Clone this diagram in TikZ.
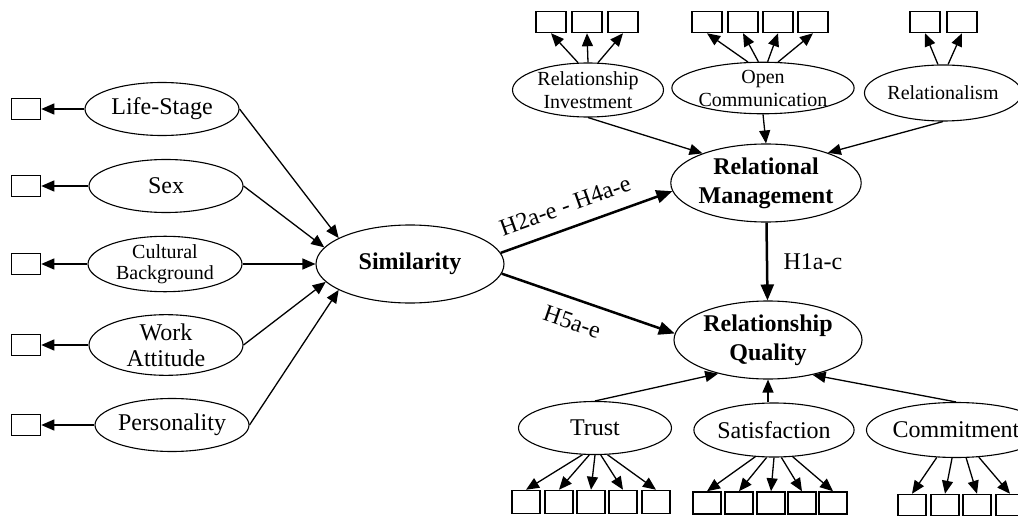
\documentclass[tikz,border=0pt]{standalone}
\usepackage{fontspec}
\setmainfont{Liberation Serif}
\usetikzlibrary{arrows.meta,shapes.geometric}
\newcommand\mainsize{\fontsize{24}{26}\selectfont}
\newcommand\subsize{\fontsize{20}{23}\selectfont}

\begin{document}
\begin{tikzpicture}[x=1pt,y=-1pt,font=\mainsize,
  lat/.style={draw,ellipse,line width=1.1pt,inner sep=0pt,align=center,minimum width=154pt,minimum height=53pt},
  big/.style={lat,font=\fontsize{24}{29}\selectfont\bfseries,minimum width=188pt,minimum height=78pt},
  ind/.style={draw,line width=1.5pt,minimum width=29pt,minimum height=21pt,inner sep=0pt},
  arr/.style={-{Triangle[length=13pt,width=11pt]},line width=1.3pt},
  hyp/.style={-{Triangle[length=16pt,width=13pt]},line width=2.5pt}]
\useasboundingbox (0,0) rectangle (1018,516);
\clip (0,0) rectangle (1018,516);

% similarity dimensions
\node[lat] (ls) at (162,109) {Life-Stage};
\node[lat] (sx) at (166,186) {Sex};
\node[lat,font=\fontsize{20}{21}\selectfont] (cb) at (165,264) {Cultural\\Background};
\node[lat] (wa) at (166,345) {Work\\Attitude};
\node[lat] (pe) at (172,425) {Personality};
\foreach \n/\y in {ls/109,sx/186,cb/264,wa/345,pe/425}
  \node[ind] (\n-box) at (26,\y) {};

\node[big] (sim) at (410,264) {Similarity};
\node[big] (rm) at (766,183) {Relational\\Management};
\node[big] (rq) at (768,340) {Relationship\\Quality};

% relational management dimensions
\node[lat,font=\subsize,minimum width=151pt,minimum height=54pt] (ri) at (588,90) {Relationship\\Investment};
\node[lat,font=\subsize,minimum width=153pt,minimum height=48pt] (oc) at (763,88) {Open\\Communication};
\node[lat,font=\subsize,minimum width=148pt,minimum height=56pt] (rl) at (943,93) {Relationalism};
\foreach \x [count=\i] in {551,587,623} \node[ind,minimum width=30pt] (ri\i) at (\x,22) {};
\foreach \x [count=\i] in {707,743,778,813} \node[ind,minimum width=30pt] (oc\i) at (\x,22) {};
\foreach \x [count=\i] in {925,962} \node[ind,minimum width=30pt] (rl\i) at (\x,22) {};

% relationship quality dimensions
\node[lat,minimum width=153pt] (tr) at (595,428) {Trust};
\node[lat,minimum width=146pt,minimum height=54pt] (sa) at (774,430) {Satisfaction};
\node[lat,minimum width=150pt,minimum height=55pt] (co) at (956,430) {Commitment};
\foreach \x [count=\i] in {526,559,591,623,656} \node[ind,minimum width=28pt,minimum height=23pt] (tr\i) at (\x,502) {};
\foreach \x [count=\i] in {707,739,771,802,833} \node[ind,minimum width=28pt,minimum height=22pt] (sa\i) at (\x,503) {};
\foreach \x [count=\i] in {912,945,977,1010} \node[ind,minimum width=28pt,minimum height=21pt] (co\i) at (\x,505) {};

% indicators
\foreach \n/\a in {ls/160,sx/169,cb/180,wa/192,pe/200} {
  \draw[arr] (\n) -- (\n-box);
  \draw[arr] (\n.east) -- (sim.\a);
}
\foreach \a [count=\i] in {110,90,70} \draw[arr] (ri.\a) -- (ri\i.south);
\foreach \a [count=\i] in {120,100,80,60} \draw[arr] (oc.\a) -- (oc\i.south);
\foreach \a [count=\i] in {100,80} \draw[arr] (rl.\a) -- (rl\i.south);
\foreach \a [count=\i] in {245,258,270,282,295} \draw[arr] (tr.\a) -- (tr\i.north);
\foreach \a [count=\i] in {235,255,270,285,305} \draw[arr] (sa.\a) -- (sa\i.north);
\foreach \a [count=\i] in {235,262,290,310} \draw[arr] (co.\a) -- (co\i.north);

\draw[arr] (ri.south) -- (rm.155);
\draw[arr] (oc.south) -- (rm.north);
\draw[arr] (rl.south) -- (rm.26);
\draw[arr] (tr.north) -- (rq.214);
\draw[arr] (rq.south |- sa.north) -- (rq.south);
\draw[arr] (co.north) -- (rq.322);

% hypotheses
\draw[hyp] (sim.7) -- node[pos=0.42,sloped,above=10pt] {H2a-e - H4a-e} (rm.185);
\draw[hyp] (sim.354) -- node[pos=0.45,sloped,below=10pt] {H5a-e} (rq.176);
\draw[hyp] (rm) -- node[right=12pt] {H1a-c} (rq);
\end{tikzpicture}
\end{document}
